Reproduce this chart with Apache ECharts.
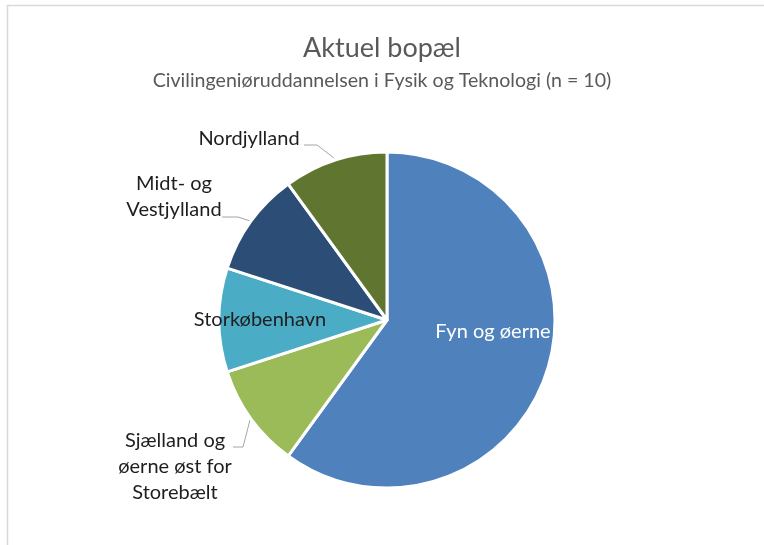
<!DOCTYPE html>
<html><head><meta charset="utf-8">
<script src="https://cdn.jsdelivr.net/npm/echarts@6/dist/echarts.min.js"></script>
<style>html,body{margin:0;padding:0;background:#fff}#c{width:764px;height:545px}</style>
</head><body><div id="c"></div>
<script>
const categories = ["Fyn og øerne", "Sjælland og\nøerne øst for\nStorebælt", "Storkøbenhavn", "Midt- og\nVestjylland", "Nordjylland"];
const values = [6, 1, 1, 1, 1];
const colors = ["#4F81BD", "#9BBB59", "#4BACC6", "#2C4D75", "#5F7530"];
const titleText = "Aktuel bopæl";
const subtitleText = "Civilingeniøruddannelsen i Fysik og Teknologi (n = 10)";

const labelPos = [
  {x: 493, y: 332, line: null},
  {x: 175, y: 467, line: [[233, 447], [243, 447], [250, 420]]},
  {x: 260, y: 320, line: null},
  {x: 174, y: 197, line: [[222, 217], [238, 217], [250, 221]]},
  {x: 249, y: 139, line: [[304, 145], [317, 145], [334, 158]]}
];

const chart = echarts.init(document.getElementById('c'));
chart.setOption({
  animation: false,
  graphic: [{type: 'rect', shape: {x: 7.5, y: 5.5, width: 800, height: 600},
    style: {fill: 'none', stroke: '#d9d9d9', lineWidth: 1.5}}],
  title: [
    {text: titleText, left: 'center', top: 30, textStyle: {fontFamily: 'Lato', fontSize: 27, fontWeight: 'normal', color: '#595959'}},
    {text: subtitleText, left: 'center', top: 66, textStyle: {fontFamily: 'Lato', fontSize: 19.6, fontWeight: 'normal', color: '#595959'}}
  ],
  series: [{
    type: 'pie',
    center: [387, 320],
    radius: 168,
    startAngle: 90,
    clockwise: true,
    itemStyle: {borderColor: '#fff', borderWidth: 3},
    label: {show: true, position: 'outside', fontFamily: 'Lato', fontSize: 20, color: '#1e1e1e', lineHeight: 26, align: 'center'},
    labelLine: {show: true, lineStyle: {color: '#a6a6a6', width: 1}},
    emphasis: {disabled: true},
    labelLayout: function (p) {
      const l = labelPos[p.dataIndex];
      const o = {x: l.x, y: l.y, align: 'center', verticalAlign: 'middle'};
      if (l.line) o.labelLinePoints = l.line;
      return o;
    },
    data: categories.map((c, i) => ({
      name: c, value: values[i],
      itemStyle: {color: colors[i]},
      label: i === 0 ? {color: '#fff'} : {},
      labelLine: {show: !!labelPos[i].line}
    }))
  }]
});
</script></body></html>
